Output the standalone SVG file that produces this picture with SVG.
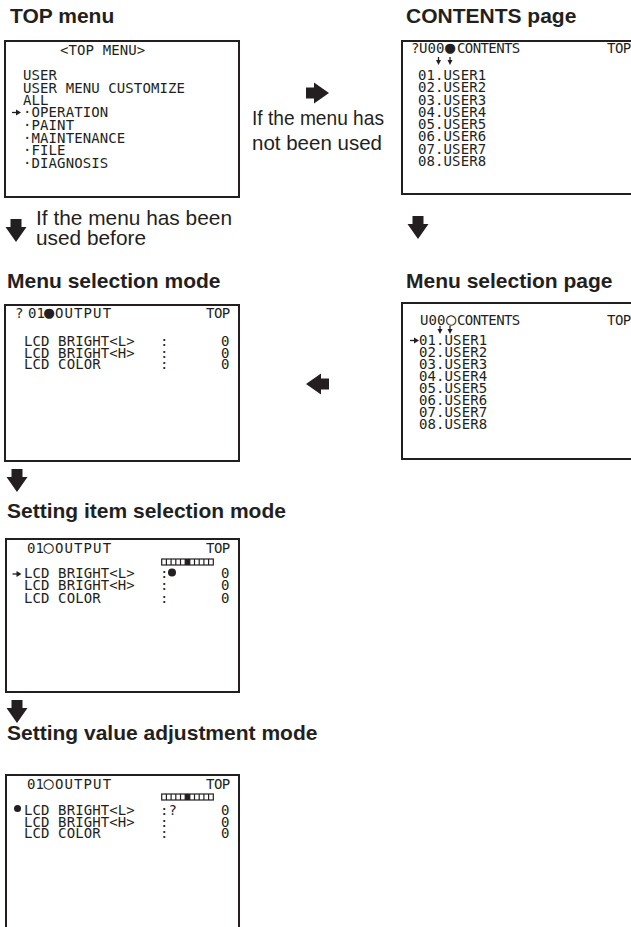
<svg xmlns="http://www.w3.org/2000/svg" width="631" height="927" viewBox="0 0 631 927">
<style>
.box{fill:none;stroke:#231f20;stroke-width:2}
.t{font-family:"Liberation Sans",Arial,sans-serif;font-weight:bold;font-size:21px;fill:#231f20}
.l{font-family:"Liberation Sans",Arial,sans-serif;font-size:21px;fill:#231f20}
.m{font-family:"DejaVu Sans Mono",monospace;font-size:14px;letter-spacing:0.1px;fill:#231f20}
.tp{letter-spacing:-0.5px}
.big{font-size:17px;letter-spacing:0}
.w{letter-spacing:1.1px}
.n{letter-spacing:-0.6px}
.blk{fill:#231f20}
.ln{stroke:#231f20;stroke-width:1.3;fill:none}
</style>
<defs>
<path id="bigdown" d="M-5.5,0 H5.5 V8 H10.5 L0,23 L-10.5,8 H-5.5 Z"/>
<g id="ptr"><path class="ln" d="M0,0 H5"/><path class="blk" d="M4,-3 L9,0 L4,3 Z"/></g>
<g id="sdn"><path class="ln" d="M0,0 V4"/><path class="blk" d="M-2.5,3 L0,8 L2.5,3 Z"/></g>
<g id="slider">
<rect x="0" y="0" width="51.6" height="6" fill="none" stroke="#231f20" stroke-width="1.2"/>
<path stroke="#231f20" stroke-width="1.2" d="M4.7,0V6M9.4,0V6M14.1,0V6M18.8,0V6M23.5,0V6M28.1,0V6M32.8,0V6M37.5,0V6M42.2,0V6M46.9,0V6"/>
<rect x="23.5" y="0" width="4.6" height="6" fill="#231f20"/>
</g>
</defs>

<g id="top-menu">
<text class="t" x="10" y="23">TOP menu</text>
<rect class="box" x="5" y="41" width="234" height="156"/>
<text class="m" x="60" y="55">&lt;TOP MENU&gt;</text>
<text class="m" x="23" y="80">USER</text>
<text class="m" x="23" y="92.5">USER MENU CUSTOMIZE</text>
<text class="m" x="23" y="105">ALL</text>
<use href="#ptr" transform="translate(12,112.5)"/>
<text class="m" x="23" y="117.3">·OPERATION</text>
<text class="m" x="23" y="130">·PAINT</text>
<text class="m" x="23" y="142.5">·MAINTENANCE</text>
<text class="m" x="23" y="155">·FILE</text>
<text class="m" x="23" y="167.5">·DIAGNOSIS</text>
</g>

<g id="contents-page">
<text class="t" x="406" y="23">CONTENTS page</text>
<rect class="box" x="402" y="41" width="240" height="153"/>
<text class="m" y="53"><tspan x="411">?</tspan><tspan x="419">U00</tspan><tspan class="big" x="445">●</tspan><tspan class="n" x="457">CONTENTS</tspan></text>
<text class="m tp" x="607" y="53">TOP</text>
<use href="#sdn" transform="translate(438.5,57)"/>
<use href="#sdn" transform="translate(450,57)"/>
<text class="m" x="418" y="80">01.USER1</text>
<text class="m" x="418" y="92.25">02.USER2</text>
<text class="m" x="418" y="104.5">03.USER3</text>
<text class="m" x="418" y="116.75">04.USER4</text>
<text class="m" x="418" y="129">05.USER5</text>
<text class="m" x="418" y="141.25">06.USER6</text>
<text class="m" x="418" y="153.5">07.USER7</text>
<text class="m" x="418" y="165.75">08.USER8</text>
</g>

<g id="menu-selection-mode">
<text class="t" x="7" y="288">Menu selection mode</text>
<rect class="box" x="5" y="305" width="234" height="156"/>
<text class="m" y="318"><tspan x="15">? </tspan><tspan x="28">01</tspan><tspan class="big" x="44">●</tspan><tspan class="w" x="55">OUTPUT</tspan></text>
<text class="m tp" x="206" y="318">TOP</text>
<text class="m" y="346"><tspan x="24">LCD BRIGHT&lt;L&gt;</tspan><tspan x="160">:</tspan><tspan x="221">0</tspan></text>
<text class="m" y="357.5"><tspan x="24">LCD BRIGHT&lt;H&gt;</tspan><tspan x="160">:</tspan><tspan x="221">0</tspan></text>
<text class="m" y="369"><tspan x="24">LCD COLOR</tspan><tspan x="160">:</tspan><tspan x="221">0</tspan></text>
</g>

<g id="menu-selection-page">
<text class="t" x="406" y="288">Menu selection page</text>
<rect class="box" x="402" y="303" width="240" height="156"/>
<text class="m" y="325"><tspan x="420">U00</tspan><tspan class="big" x="446">○</tspan><tspan class="n" x="457">CONTENTS</tspan></text>
<text class="m tp" x="607" y="325">TOP</text>
<use href="#sdn" transform="translate(440,326)"/>
<use href="#sdn" transform="translate(450,326)"/>
<use href="#ptr" transform="translate(410,340.5)"/>
<text class="m" x="419" y="345">01.USER1</text>
<text class="m" x="419" y="357">02.USER2</text>
<text class="m" x="419" y="369">03.USER3</text>
<text class="m" x="419" y="381">04.USER4</text>
<text class="m" x="419" y="393">05.USER5</text>
<text class="m" x="419" y="405">06.USER6</text>
<text class="m" x="419" y="417">07.USER7</text>
<text class="m" x="419" y="429">08.USER8</text>
</g>

<g id="setting-item-selection-mode">
<text class="t" x="7" y="518">Setting item selection mode</text>
<rect class="box" x="6" y="539" width="233" height="153"/>
<text class="m" y="553"><tspan x="27">01</tspan><tspan class="big" x="43.5">○</tspan><tspan class="w" x="55">OUTPUT</tspan></text>
<text class="m tp" x="206" y="553">TOP</text>
<use href="#slider" transform="translate(161.7,559)"/>
<use href="#ptr" transform="translate(12.5,574)"/>
<circle class="blk" cx="172" cy="572.5" r="4"/>
<text class="m" y="578.3"><tspan x="24">LCD BRIGHT&lt;L&gt;</tspan><tspan x="160">:</tspan><tspan x="221">0</tspan></text>
<text class="m" y="590.3"><tspan x="24">LCD BRIGHT&lt;H&gt;</tspan><tspan x="160">:</tspan><tspan x="221">0</tspan></text>
<text class="m" y="602.5"><tspan x="24">LCD COLOR</tspan><tspan x="160">:</tspan><tspan x="221">0</tspan></text>
</g>

<g id="setting-value-adjustment-mode">
<text class="t" x="7" y="740">Setting value adjustment mode</text>
<rect class="box" x="6" y="775" width="233" height="170"/>
<text class="m" y="789"><tspan x="27">01</tspan><tspan class="big" x="43.5">○</tspan><tspan class="w" x="55">OUTPUT</tspan></text>
<text class="m tp" x="206" y="789">TOP</text>
<use href="#slider" transform="translate(161.7,794)"/>
<circle class="blk" cx="17.5" cy="808.5" r="3.5"/>
<text class="m" y="815"><tspan x="24">LCD BRIGHT&lt;L&gt;</tspan><tspan x="160">:?</tspan><tspan x="221">0</tspan></text>
<text class="m" y="826.7"><tspan x="24">LCD BRIGHT&lt;H&gt;</tspan><tspan x="160">:</tspan><tspan x="221">0</tspan></text>
<text class="m" y="838.3"><tspan x="24">LCD COLOR</tspan><tspan x="160">:</tspan><tspan x="221">0</tspan></text>
</g>

<g id="connectors">
<use href="#bigdown" class="blk" transform="translate(16,219)"/>
<text class="l" x="36" y="225" textLength="196" lengthAdjust="spacingAndGlyphs">If the menu has been</text>
<text class="l" x="36" y="245" textLength="110" lengthAdjust="spacingAndGlyphs">used before</text>
<use href="#bigdown" class="blk" transform="translate(306,93) rotate(-90)"/>
<text class="l" x="252" y="125" textLength="132" lengthAdjust="spacingAndGlyphs">If the menu has</text>
<text class="l" x="252" y="150" textLength="130" lengthAdjust="spacingAndGlyphs">not been used</text>
<use href="#bigdown" class="blk" transform="translate(418,216)"/>
<use href="#bigdown" class="blk" transform="translate(329,384) rotate(90)"/>
<use href="#bigdown" class="blk" transform="translate(17,469)"/>
<use href="#bigdown" class="blk" transform="translate(17,700)"/>
</g>
</svg>
